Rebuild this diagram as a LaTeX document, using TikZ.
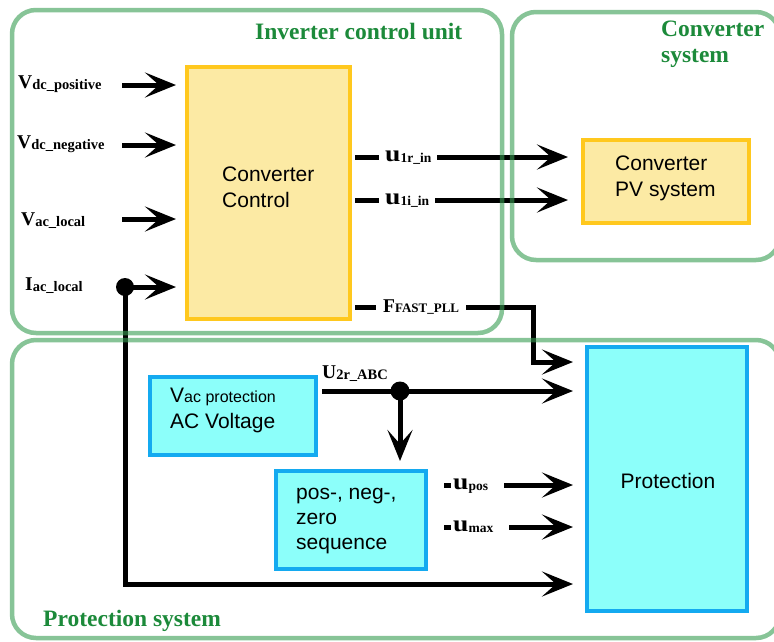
\documentclass[tikz,border=0pt]{standalone}
\usepackage{graphicx}
\usepackage{fontspec}
\setmainfont{Liberation Serif}
\newfontfamily\sansbox{Liberation Sans}
\usetikzlibrary{arrows.meta,calc}
\definecolor{grnbase}{RGB}{55,157,83}
\definecolor{grntext}{RGB}{28,138,58}
\definecolor{ylwfill}{RGB}{252,234,164}
\definecolor{ylwdraw}{RGB}{255,200,30}
\definecolor{cyanfill}{RGB}{140,255,250}
\definecolor{bluedraw}{RGB}{20,170,240}
\newcommand{\grpfont}{\bfseries\fontsize{23.5}{26}\selectfont}
\newcommand{\bxfont}{\sansbox\fontsize{21}{26}\selectfont}
\newcommand{\sigl}[2]{{\bfseries\fontsize{19.5}{20}\selectfont #1}\raisebox{-1.5pt}{\bfseries\fontsize{14.5}{15}\selectfont #2}}
\newcommand{\ulbl}[1]{{\bfseries\fontsize{23}{24}\selectfont\scalebox{1.2}[1]{u}}\raisebox{-1.5pt}{\bfseries\fontsize{13.5}{14}\selectfont #1}}
\begin{document}
\begin{tikzpicture}[x=1pt,y=-1pt,
  groupbox/.style={draw=grnbase, draw opacity=0.6, line width=4.5pt, rounded corners=24pt, inner sep=0pt},
  ybox/.style={draw=ylwdraw, fill=ylwfill, line width=4pt, inner sep=0pt},
  cbox/.style={draw=bluedraw, fill=cyanfill, line width=4pt, inner sep=0pt},
  wire/.style={line width=5pt},
  arr/.style={wire, -{Stealth[length=31pt,width=25pt,inset=14pt]}},
  dot/.style={circle, fill=black, inner sep=0pt, minimum size=18pt},
  grp/.style={text=grntext, font=\grpfont, inner sep=0pt},
  lbl/.style={inner sep=0pt},
  lblbg/.style={fill=white, inner ysep=2pt},
  boxtxt/.style={font=\bxfont, inner sep=0pt, align=left}]
\fill[white] (0,0) rectangle (774,641);
\useasboundingbox (0,0) rectangle (774,641);

% blocks
\node[ybox, minimum width=163pt, minimum height=252pt] (cc) at (268.5,193) {};
\node[ybox, minimum width=166pt, minimum height=83pt] (pv) at (666,181.5) {};
\node[cbox, minimum width=166pt, minimum height=78pt] (vacp) at (233,416) {};
\node[cbox, minimum width=150pt, minimum height=98pt] (seq) at (351,520) {};
\node[cbox, minimum width=160pt, minimum height=264pt] (prot) at (667,479) {};

\node[boxtxt, anchor=west] (cctxt) at (222,187) {Converter\\Control};
\node[boxtxt, anchor=west] (pvtxt) at (615,178) {Converter\\PV system};
\node[boxtxt, anchor=west] (vactxt) at (170,410) {V{\fontsize{16}{16}\selectfont ac protection}\\AC Voltage};
\node[boxtxt, anchor=west, font=\sansbox\fontsize{21}{25}\selectfont] (seqtxt) at (296,521) {pos-, neg-,\\zero\\sequence};
\node[boxtxt, anchor=base] (prottxt) at (668,488) {Protection};

% inputs
\node[lbl, anchor=base west] (lvp) at (18,88) {\sigl{V}{dc\_positive}};
\node[lbl, anchor=base west] (lvn) at (17,148) {\sigl{V}{dc\_negative}};
\node[lbl, anchor=base west] (lva) at (21,225) {\sigl{V}{ac\_local}};
\node[lbl, anchor=base west] (lia) at (25,290) {\sigl{I}{ac\_local}};

\coordinate (s1) at (122,85);
\coordinate (s2) at (122,145);
\coordinate (s3) at (122,219);
\draw[arr, shorten >=9pt] (s1) -- (s1 -| cc.west);
\draw[arr, shorten >=9pt] (s2) -- (s2 -| cc.west);
\draw[arr, shorten >=9pt] (s3) -- (s3 -| cc.west);

\node[dot] (d1) at (125,287) {};
\coordinate (c1) at (125,584);
\draw[arr, shorten >=9pt] (d1.center) -- (d1 -| cc.west);
\draw[arr, shorten >=12pt] (d1.center) -- (c1) -- (c1 -| prot.west);

% outputs
\coordinate (o1) at (350,157);
\coordinate (o2) at (350,200);
\coordinate (o3) at (350,307);
\coordinate (k1) at (533,307);
\coordinate (k2) at (533,362);
\draw[arr, shorten <=3pt, shorten >=13pt] (o1 -| cc.east) -- (o1 -| pv.west);
\draw[arr, shorten <=3pt, shorten >=13pt] (o2 -| cc.east) -- (o2 -| pv.west);
\draw[arr, shorten <=3pt, shorten >=12pt] (o3 -| cc.east) -- (k1) -- (k2) -- (k2 -| prot.west);
\node[lbl, lblbg, anchor=base west, inner xsep=6pt] (lu1r) at (379,161) {\ulbl{1r\_in}};
\node[lbl, lblbg, anchor=base west, inner xsep=6pt] (lu1i) at (379,204) {\ulbl{1i\_in}};
\node[lbl, lblbg, anchor=base west, inner xsep=7pt] (lff) at (376,312) {{\bfseries\fontsize{19.5}{20}\selectfont F}{\bfseries\fontsize{13}{14}\selectfont FAST\_PLL}};

% protection system
\coordinate (u2) at (316,391);
\draw[arr, shorten <=4pt, shorten >=12pt] (vacp.east |- u2) -- (u2 -| prot.west);
\node[dot, minimum size=19pt] (d2) at (400,391) {};
\draw[arr, shorten >=8pt] (d2.center) -- (d2 |- seq.north);
\node[lbl, anchor=base west] (lu2) at (322,378) {\sigl{U}{2r\_ABC}};

\coordinate (p1) at (426,485);
\coordinate (p2) at (426,527);
\draw[arr, shorten <=16pt, shorten >=12pt] (seq.east |- p1) -- (p1 -| prot.west);
\draw[arr, shorten <=16pt, shorten >=12pt] (seq.east |- p2) -- (p2 -| prot.west);
\node[lbl, lblbg, anchor=base west, inner xsep=2pt] (lpos) at (451,489) {\ulbl{pos}\hspace*{14pt}};
\node[lbl, lblbg, anchor=base west, inner xsep=2pt] (lmax) at (451,531) {\ulbl{max}\hspace*{14pt}};

% group boxes
\node[groupbox, minimum width=490pt, minimum height=323pt] (icu) at (257,171.5) {};
\node[groupbox, minimum width=268pt, minimum height=248pt] (csys) at (646,136) {};
\node[groupbox, minimum width=768pt, minimum height=298pt] (psys) at (396,489) {};

\node[grp, anchor=base west] (ticu) at (255,39) {Inverter control unit};
\node[grp, anchor=north west, align=left] (tcs) at (661,21) {Converter\\system};
\node[grp, anchor=base west] (tps) at (43,626) {Protection system};
\end{tikzpicture}
\end{document}
